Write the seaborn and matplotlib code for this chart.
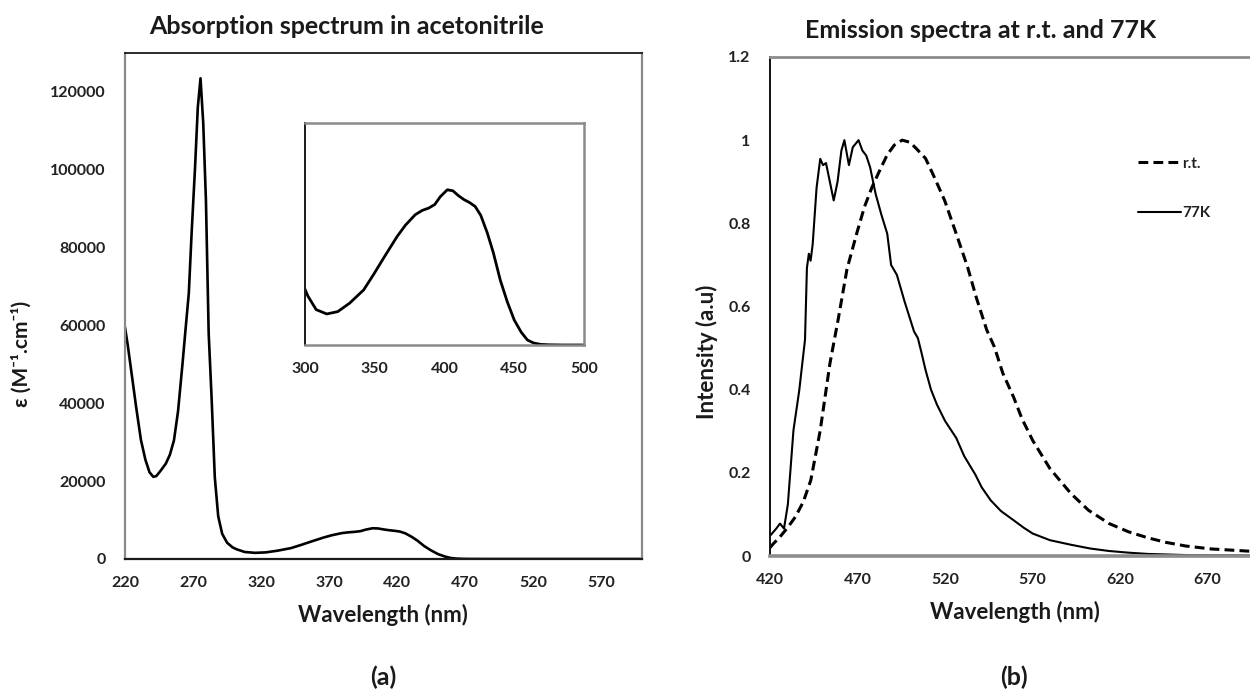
import numpy as np
import pandas as pd
import matplotlib
matplotlib.use("Agg")
import matplotlib.pyplot as plt
import seaborn as sns

# ---------------- data ----------------
abs_wl = [220, 222, 225.5, 228, 231.7, 235, 238, 240.8, 243, 246, 250, 253, 256, 259,
          262.3, 264.5, 266.9, 269, 271.5, 273.5, 275.5, 277.5, 279.5, 281.5, 283.7,
          286, 288.5, 291.4, 295, 299, 302, 308, 315.6, 323.5, 332, 342, 349, 357, 366,
          372, 379, 384, 388.7, 393, 397, 402, 406, 410, 414, 418, 422, 426, 430.7, 435,
          440, 445, 450, 455, 459.5, 464, 469, 475, 485, 500, 550, 600]
abs_eps = [59500, 55000, 46000, 39500, 30600, 25500, 22300, 21100, 21300, 22600, 24500,
           26800, 30500, 38000, 50300, 59000, 68300, 84000, 100700, 116000, 123500,
           112000, 92000, 58000, 41000, 21000, 11000, 6500, 4200, 3000, 2500, 1800, 1580,
           1700, 2130, 2800, 3570, 4500, 5520, 6100, 6630, 6850, 6970, 7150, 7550, 7900,
           7850, 7600, 7400, 7250, 7050, 6600, 5700, 4700, 3300, 2200, 1270, 650, 250, 100,
           30, 10, 0, 0, 0, 0]

rt_wl = [420, 422, 425.7, 430, 434.5, 439, 443.3, 448.7, 454.2, 459, 464, 469.5, 474,
         478.3, 483, 487, 491, 495.5, 500, 504, 508.9, 514, 519.8, 526, 532.9, 538,
         543.9, 548.2, 553, 559.2, 564, 570.1, 580, 592, 602, 613.8, 625, 635.7, 646,
         657.6, 672, 688.2, 700]
rt_int = [0.02, 0.03, 0.046, 0.068, 0.094, 0.13, 0.182, 0.302, 0.462, 0.57, 0.69, 0.775,
          0.84, 0.887, 0.93, 0.965, 0.988, 1.0, 0.995, 0.978, 0.956, 0.91, 0.855, 0.78,
          0.695, 0.62, 0.543, 0.503, 0.44, 0.382, 0.33, 0.278, 0.21, 0.150, 0.11, 0.078,
          0.058, 0.044, 0.033, 0.024, 0.017, 0.013, 0.01]

k77_wl = [420.3, 423.6, 425.7, 428, 430.2, 433.4, 436.7, 440, 441.1, 442.2, 443.2, 444.4,
          446.6, 448.7, 450.3, 452, 454.2, 456.4, 458.6, 460.8, 462.5, 465.1, 467.3, 470.6,
          472.8, 475, 477.2, 480.4, 483.7, 487, 489.2, 492.5, 496.9, 502.3, 504.5, 506.5,
          508.9, 512, 515.4, 520, 526.4, 531, 537.3, 541, 546.1, 552, 559.2, 565, 570.1,
          580, 592, 603, 613.8, 625, 635.7, 660, 700]
k77_int = [0.05, 0.066, 0.078, 0.066, 0.124, 0.302, 0.398, 0.52, 0.693, 0.727, 0.71, 0.75,
           0.885, 0.955, 0.94, 0.945, 0.90, 0.855, 0.90, 0.975, 1.0, 0.94, 0.983, 1.0,
           0.975, 0.963, 0.935, 0.87, 0.82, 0.775, 0.70, 0.676, 0.612, 0.54, 0.524, 0.49,
           0.447, 0.40, 0.364, 0.325, 0.284, 0.24, 0.196, 0.165, 0.134, 0.108, 0.086,
           0.068, 0.054, 0.038, 0.027, 0.018, 0.012, 0.008, 0.005, 0.002, 0.001]

abs_xticks = [220, 270, 320, 370, 420, 470, 520, 570]
abs_yticks = [0, 20000, 40000, 60000, 80000, 100000, 120000]
inset_xticks = [300, 350, 400, 450, 500]
em_xticks = [420, 470, 520, 570, 620, 670]
em_yticks = [0, 0.2, 0.4, 0.6, 0.8, 1.0, 1.2]
em_ylabels = ["0", "0.2", "0.4", "0.6", "0.8", "1", "1.2"]

# ---------------- style ----------------
sns.set_theme(style="white")
plt.rcParams["font.family"] = ["Lato", "DejaVu Sans"]

W, H = 1250, 693
fig = plt.figure(figsize=(W / 100, H / 100), dpi=100)

def box(l, t, r, b):
    return [l / W, 1 - b / H, (r - l) / W, (b - t) / H]

ax1 = fig.add_axes(box(125, 53, 642, 559))
ax2 = fig.add_axes(box(770, 57, 1260, 556))
axin = fig.add_axes(box(305, 123, 584, 345))

df_abs = pd.DataFrame({"wl": abs_wl, "eps": abs_eps})
df_rt = pd.DataFrame({"wl": rt_wl, "I": rt_int})
df_77 = pd.DataFrame({"wl": k77_wl, "I": k77_int})

tick_kw = dict(labelsize=11.5, labelcolor="#222222")

# ---- absorption main ----
sns.lineplot(data=df_abs, x="wl", y="eps", ax=ax1, color="black", lw=1.9,
             estimator=None, sort=False)
ax1.set_xlim(220, 600)
ax1.set_ylim(0, 130000)
ax1.set_xticks(abs_xticks)
ax1.set_yticks(abs_yticks)
ax1.set_xticklabels([str(v) for v in abs_xticks], fontweight="bold")
ax1.set_yticklabels([str(v) for v in abs_yticks], fontweight="bold")
ax1.tick_params(axis="x", direction="in", length=4, width=1, color="#555555", pad=12, **tick_kw)
ax1.tick_params(axis="y", direction="in", length=4, width=1, color="#333333", pad=14, **tick_kw)
ax1.set_xlabel("")
ax1.set_ylabel("")
for s, c, w in [("top", "#1a1a1a", 1.3), ("bottom", "#1a1a1a", 1.6),
                ("left", "#8a8a8a", 1.6), ("right", "#8a8a8a", 1.6)]:
    ax1.spines[s].set_visible(True)
    ax1.spines[s].set_color(c)
    ax1.spines[s].set_linewidth(w)

# ---- inset ----
sns.lineplot(data=df_abs, x="wl", y="eps", ax=axin, color="black", lw=2.0,
             estimator=None, sort=False)
axin.set_xlim(300, 500)
axin.set_ylim(0, 11300)
axin.set_xticks(inset_xticks)
axin.set_xticklabels([str(v) for v in inset_xticks], fontweight="bold")
axin.set_yticks([])
axin.tick_params(axis="x", direction="in", length=3, width=1, color="#666666", pad=12, **tick_kw)
axin.set_xlabel("")
axin.set_ylabel("")
for s, c, w in [("top", "#8a8a8a", 1.8), ("bottom", "#8a8a8a", 1.8),
                ("left", "#1a1a1a", 1.4), ("right", "#8a8a8a", 1.8)]:
    axin.spines[s].set_visible(True)
    axin.spines[s].set_color(c)
    axin.spines[s].set_linewidth(w)

# ---- emission ----
sns.lineplot(data=df_rt, x="wl", y="I", ax=ax2, color="black", lw=2.2,
             linestyle=(0, (3.2, 1.7)), estimator=None, sort=False, label="r.t.")
sns.lineplot(data=df_77, x="wl", y="I", ax=ax2, color="black", lw=1.5,
             estimator=None, sort=False, label="77K")
ax2.set_xlim(420, 700)
ax2.set_ylim(0, 1.2)
ax2.set_xticks(em_xticks)
ax2.set_yticks(em_yticks)
ax2.set_xticklabels([str(v) for v in em_xticks], fontweight="bold")
ax2.set_yticklabels(em_ylabels, fontweight="bold")
ax2.tick_params(axis="x", length=0, pad=12, **tick_kw)
ax2.tick_params(axis="y", length=0, pad=14, **tick_kw)
ax2.set_xlabel("")
ax2.set_ylabel("")
for s, c, w in [("top", "#8c8c8c", 2.0), ("bottom", "#8c8c8c", 2.6),
                ("left", "#111111", 1.4), ("right", "#8c8c8c", 1.5)]:
    ax2.spines[s].set_visible(True)
    ax2.spines[s].set_color(c)
    ax2.spines[s].set_linewidth(w)
leg = ax2.legend(loc="upper left", bbox_to_anchor=(0.751, 0.80), frameon=False,
                 fontsize=11, handlelength=2.8, handletextpad=0.1,
                 labelspacing=2.3, borderpad=0, borderaxespad=0)
for t in leg.get_texts():
    t.set_color("#222222")
    t.set_fontweight("bold")

# ---------------- texts ----------------
def ftext(x, y, s, **kw):
    fig.text(x / W, 1 - y / H, s, ha="center", va="center", color="#1a1a1a", **kw)

ftext(347, 27, "Absorption spectrum in acetonitrile", fontsize=18, fontweight="bold")
ftext(981, 30, "Emission spectra at r.t. and 77K", fontsize=18, fontweight="bold")
ftext(383, 615, "Wavelength (nm)", fontsize=16, fontweight="bold")
ftext(1015, 612, "Wavelength (nm)", fontsize=16, fontweight="bold")
ftext(21, 354, "ε (M⁻¹.cm⁻¹)", fontsize=15, fontweight="bold", rotation=90)
ftext(707, 352, "Intensity (a.u)", fontsize=16, fontweight="bold", rotation=90)
ftext(383, 677, "(a)", fontsize=18, fontweight="bold")
ftext(1014, 677, "(b)", fontsize=18, fontweight="bold")

fig.savefig("out.png", dpi=100)
